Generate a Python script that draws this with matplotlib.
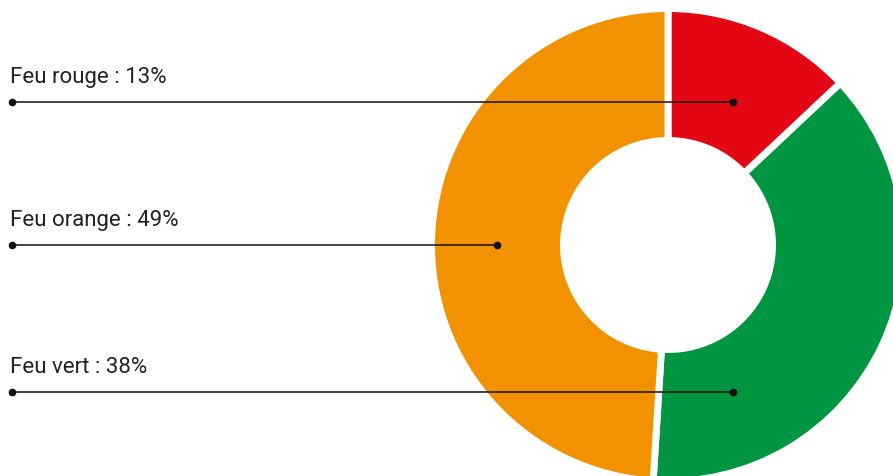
import matplotlib
matplotlib.use("Agg")
import matplotlib.pyplot as plt

# data
labels = ["Feu rouge", "Feu vert", "Feu orange"]
values = [13, 38, 49]
colors = ["#E30613", "#009540", "#F39200"]

# label order on the left (top to bottom) and where each leader line ends
label_order = ["Feu rouge", "Feu orange", "Feu vert"]
label_y = [102, 245, 392]       # pixel rows of the leader lines
dot_x = [733, 497, 733]          # pixel column of the dot inside the ring

W, H = 893, 476
cx, cy = 668, 245
r_out, r_in = 236.5, 104.5   # white edge eats a bit of each side

plt.rcParams['font.family'] = ['Roboto', 'DejaVu Sans']

fig = plt.figure(figsize=(W / 100, H / 100), dpi=100)
ax = fig.add_axes([0, 0, 1, 1])

ax.pie(values, colors=colors, startangle=90, counterclock=False,
       radius=r_out, center=(cx, H - cy),
       wedgeprops=dict(width=r_out - r_in, edgecolor="white", linewidth=5))

for name, y, dx in zip(label_order, label_y, dot_x):
    v = values[labels.index(name)]
    yy = H - y
    ax.plot([12, dx], [yy, yy], color="#111111", lw=1.1, zorder=5)
    ax.plot([12, dx], [yy, yy], "o", color="#111111", ms=4.5, zorder=6)
    ax.text(10, yy + 14, f"{name} : {v}%", fontsize=16, color="#222222",
            ha="left", va="bottom")

ax.set_xlim(0, W)
ax.set_ylim(0, H)
ax.set_aspect("equal")
ax.axis("off")

plt.savefig("out.png", dpi=100)
